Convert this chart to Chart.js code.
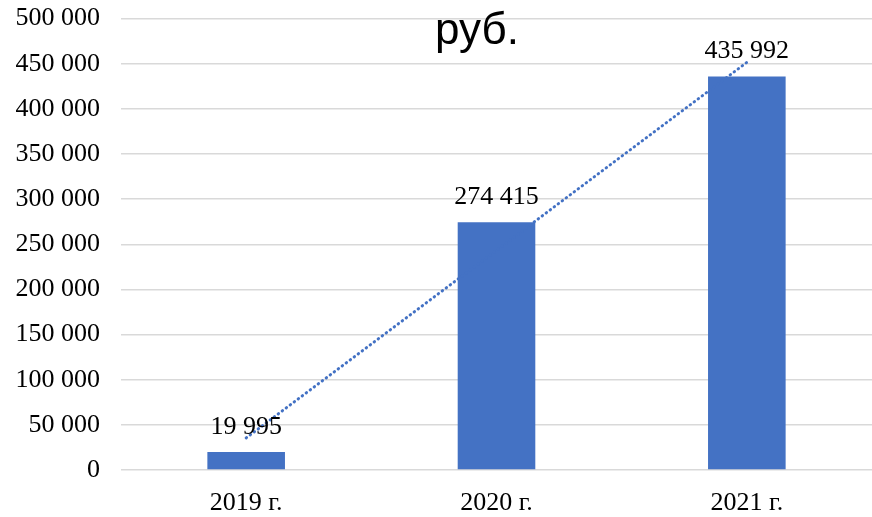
<!DOCTYPE html>
<html>
<head>
<meta charset="utf-8">
<script src="https://cdn.jsdelivr.net/npm/chart.js@4.4.0/dist/chart.umd.min.js"></script>
<style>
  body { margin: 0; background: #fff; overflow: hidden; }
  .wrap { position: relative; width: 872px; height: 517px; overflow: hidden; }
  .plot { position: absolute; left: 0; top: -18px; width: 872px; height: 535px; }
  .unit {
    position: absolute; left: 435px; top: 4px;
    font-family: "Liberation Sans", Arial, sans-serif; font-size: 44px; color: #000;
  }
</style>
</head>
<body>
<div class="wrap">
  <div class="plot"><canvas id="chart"></canvas></div>
  <div class="unit">руб.</div>
</div>
<script>
  const years = ['2019 г.', '2020 г.', '2021 г.'];
  const amounts = [19995, 274415, 435992];
  // dotted trend line at first and last year
  const trendValues = [35500, null, 451500];
  const yMax = 500000;
  const yStep = 50000;

  const fmt = v => String(v).replace(/\B(?=(\d{3})+(?!\d))/g, ' ');
  const serif = '"Liberation Serif", "Times New Roman", serif';

  const barLabels = {
    id: 'barLabels',
    afterDatasetsDraw(chart) {
      const ctx = chart.ctx;
      const meta = chart.getDatasetMeta(0);
      ctx.save();
      ctx.font = '26px ' + serif;
      ctx.fillStyle = '#000';
      ctx.textAlign = 'center';
      ctx.textBaseline = 'middle';
      meta.data.forEach((bar, i) => {
        ctx.fillText(fmt(amounts[i]), bar.x, bar.y - 25);
      });
      ctx.restore();
    }
  };

  new Chart(document.getElementById('chart'), {
    type: 'bar',
    data: {
      labels: years,
      datasets: [{
        data: amounts,
        backgroundColor: '#4472C4',
        categoryPercentage: 1,
        barPercentage: 0.31,
        order: 1
      }, {
        type: 'line',
        data: trendValues,
        spanGaps: true,
        borderColor: '#4472C4',
        borderWidth: 3,
        borderDash: [0.5, 4.5],
        borderCapStyle: 'round',
        pointRadius: 0,
        order: 0
      }]
    },
    options: {
      responsive: true,
      maintainAspectRatio: false,
      animation: false,
      layout: { padding: 0 },
      plugins: {
        legend: { display: false },
        tooltip: { enabled: false }
      },
      scales: {
        x: {
          grid: { display: false },
          border: { display: false },
          ticks: { color: '#000', font: { family: serif, size: 26 }, padding: 10 },
          afterFit(scale) { scale.height = 47; }
        },
        y: {
          min: 0,
          max: yMax,
          ticks: {
            stepSize: yStep,
            color: '#000',
            font: { family: serif, size: 26 },
            padding: 21,
            callback: v => fmt(v)
          },
          grid: { color: '#d9d9d9', lineWidth: 1.5, drawTicks: false },
          border: { display: false },
          afterFit(scale) { scale.width = 121; }
        }
      }
    },
    plugins: [barLabels]
  });
</script>
</body>
</html>
